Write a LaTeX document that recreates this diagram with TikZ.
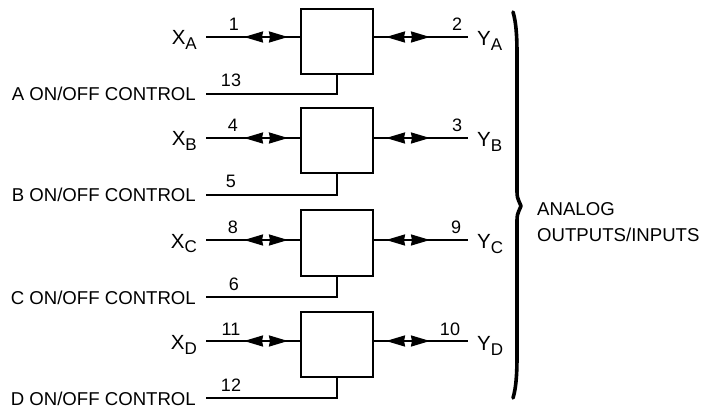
\documentclass[tikz,border=0pt]{standalone}
\usepackage{fontspec}
\setmainfont{Liberation Sans}
\usetikzlibrary{arrows.meta}
\newcommand{\pinname}[2]{\fontsize{20.5}{20}\selectfont #1\raisebox{-5pt}{\fontsize{17}{17}\selectfont #2}}
\tikzset{
  switchbox/.style={draw,line width=2pt,minimum width=72pt,minimum height=65pt,inner sep=0pt},
  pinlabel/.style={inner sep=0pt,font=\fontsize{18}{18}\selectfont,anchor=base},
  ctrllabel/.style={inner sep=0pt,font=\fontsize{18.6}{18.6}\selectfont,anchor=base east},
  xlabel/.style={inner sep=0pt,anchor=base east},
  ylabel/.style={inner sep=0pt,anchor=base west},
  wire/.style={line width=2pt},
  biarrow/.style={line width=2pt,{Stealth[length=19pt,width=11pt,inset=1pt]}-{Stealth[length=19pt,width=11pt,inset=1pt]}}
}
\begin{document}
\begin{tikzpicture}[x=1pt,y=-1pt]
      \useasboundingbox (0,0) rectangle (708,411);
      \draw
        (337,41.5) node[switchbox] (boxa){}
        (337,141) node[switchbox] (boxb){}
        (337,243) node[switchbox] (boxc){}
        (337,344.5) node[switchbox] (boxd){}
        (197,45) node[xlabel] (xa){\pinname{X}{A}}
        (197,146) node[xlabel] (xb){\pinname{X}{B}}
        (197,248) node[xlabel] (xc){\pinname{X}{C}}
        (197,349) node[xlabel] (xd){\pinname{X}{D}}
        (477,46) node[ylabel] (ya){\pinname{Y}{A}}
        (477,147) node[ylabel] (yb){\pinname{Y}{B}}
        (477,249) node[ylabel] (yc){\pinname{Y}{C}}
        (477,350) node[ylabel] (yd){\pinname{Y}{D}}
        (196,101) node[ctrllabel] (ca){A ON/OFF CONTROL}
        (196,202) node[ctrllabel] (cb){B ON/OFF CONTROL}
        (196,304) node[ctrllabel] (cc){C ON/OFF CONTROL}
        (196,405.5) node[ctrllabel] (cd){D ON/OFF CONTROL}
        (234,31) node[pinlabel] (p1){1}
        (457,31) node[pinlabel] (p2){2}
        (231,87) node[pinlabel] (p13){13}
        (233,132) node[pinlabel] (p4){4}
        (457,132) node[pinlabel] (p3){3}
        (231,188) node[pinlabel] (p5){5}
        (233,234) node[pinlabel] (p8){8}
        (456,234) node[pinlabel] (p9){9}
        (234,290) node[pinlabel] (p6){6}
        (231,335) node[pinlabel] (p11){11}
        (450,335) node[pinlabel] (p10){10}
        (231,391) node[pinlabel] (p12){12}
        (537,222) node[inner sep=0pt,anchor=west,align=left,font=\fontsize{18.6}{26}\selectfont] (analog){ANALOG\\OUTPUTS/INPUTS};
      \coordinate (wxa) at (206,37);
      \coordinate (wxb) at (206,138);
      \coordinate (wxc) at (206,240);
      \coordinate (wxd) at (206,341);
      \coordinate (wya) at (468,37);
      \coordinate (wyb) at (468,138);
      \coordinate (wyc) at (468,240);
      \coordinate (wyd) at (468,341);
      \coordinate (wca) at (206,94);
      \coordinate (wcb) at (206,195);
      \coordinate (wcc) at (206,297);
      \coordinate (wcd) at (206,398);
      \coordinate (lxa) at (244,37);
      \coordinate (rxa) at (288,37);
      \coordinate (lxb) at (244,138);
      \coordinate (rxb) at (288,138);
      \coordinate (lxc) at (244,240);
      \coordinate (rxc) at (288,240);
      \coordinate (lxd) at (244,341);
      \coordinate (rxd) at (288,341);
      \coordinate (lya) at (386,37);
      \coordinate (rya) at (430,37);
      \coordinate (lyb) at (386,138);
      \coordinate (ryb) at (430,138);
      \coordinate (lyc) at (386,240);
      \coordinate (ryc) at (430,240);
      \coordinate (lyd) at (386,341);
      \coordinate (ryd) at (430,341);
      \begin{scope}[wire]
        \draw (wxa) to (wxa -| boxa.west);
        \draw (wxb) to (wxb -| boxb.west);
        \draw (wxc) to (wxc -| boxc.west);
        \draw (wxd) to (wxd -| boxd.west);
        \draw (wya -| boxa.east) to (wya);
        \draw (wyb -| boxb.east) to (wyb);
        \draw (wyc -| boxc.east) to (wyc);
        \draw (wyd -| boxd.east) to (wyd);
        \draw (wca) -| (boxa.south);
        \draw (wcb) -| (boxb.south);
        \draw (wcc) -| (boxc.south);
        \draw (wcd) -| (boxd.south);
      \end{scope}
      \begin{scope}[biarrow]
        \draw (lxa) to (rxa);
        \draw (lxb) to (rxb);
        \draw (lxc) to (rxc);
        \draw (lxd) to (rxd);
        \draw (lya) to (rya);
        \draw (lyb) to (ryb);
        \draw (lyc) to (ryc);
        \draw (lyd) to (ryd);
      \end{scope}
      \draw[line width=3.6pt,line cap=round,line join=round]
        (513,12) .. controls (516,22) and (517,35) .. (517,55)
        -- (517,190) .. controls (517,197) .. (521,206)
        .. controls (517,215) .. (517,222) -- (517,355)
        .. controls (517,375) and (516,388) .. (513,398);
    \end{tikzpicture}
\end{document}
